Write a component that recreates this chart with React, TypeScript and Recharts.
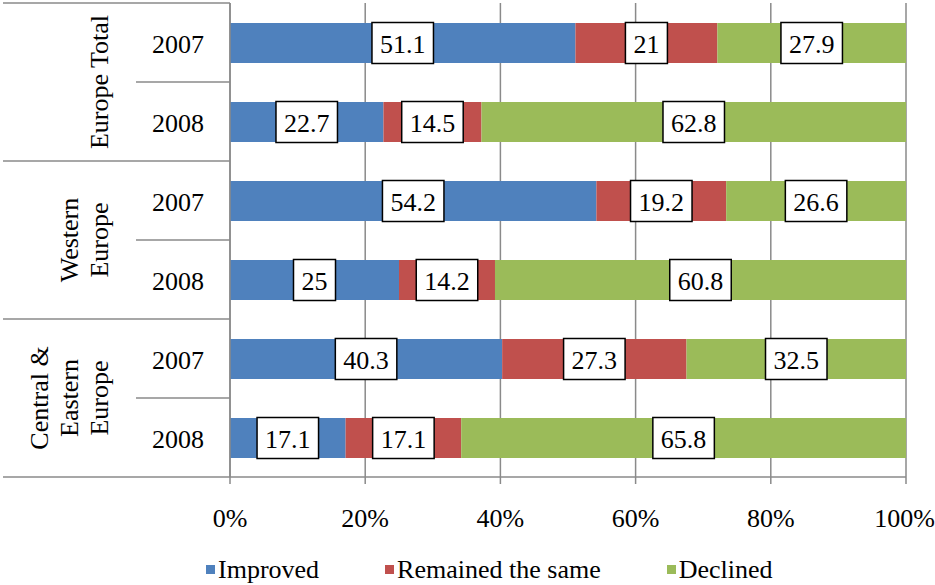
import { BarChart, Bar, XAxis, YAxis, CartesianGrid, LabelList } from "recharts";

const FONT = "'Liberation Serif', Tinos, 'Times New Roman', Times, 'DejaVu Serif', serif";
const GRAY = "#8a8a8a";

const groups = [["Europe Total"], ["Western", "Europe"], ["Central &", "Eastern", "Europe"]];
const years = ["2007", "2008", "2007", "2008", "2007", "2008"];
const improved = [51.1, 22.7, 54.2, 25, 40.3, 17.1];
const remained = [21, 14.5, 19.2, 14.2, 27.3, 17.1];
const declined = [27.9, 62.8, 26.6, 60.8, 32.5, 65.8];
const xTicks = [0, 0.2, 0.4, 0.6, 0.8, 1];

const series = [
  { key: "improved", name: "Improved", color: "#4F81BD" },
  { key: "remained", name: "Remained the same", color: "#C0504D" },
  { key: "declined", name: "Declined", color: "#9BBB59" },
];

const data = years.map((year, i) => ({
  id: `${groups[Math.floor(i / 2)].join(" ")} ${year}`,
  year,
  improved: improved[i],
  remained: remained[i],
  declined: declined[i],
}));

// layout of the plot area
const AXIS_X = 230;
const TOP = 3;
const BOTTOM = 477;
const BAND = (BOTTOM - TOP) / data.length;

const textWidth = (s: string) =>
  s.split("").reduce((w, c) => w + (c === "." ? 6.5 : 13), 0);

// eslint-disable-next-line @typescript-eslint/no-explicit-any
const YearTick = (props: any) => {
  const { y, index } = props;
  const top = y - BAND / 2;
  const bottom = y + BAND / 2;
  const lastInGroup = index % 2 === 1;
  const lines = groups[Math.floor(index / 2)];
  return (
    <g>
      {index === 0 && (
        <line x1={3} x2={AXIS_X} y1={top} y2={top} stroke={GRAY} strokeWidth={1.5} />
      )}
      <line
        x1={lastInGroup ? 3 : 136}
        x2={AXIS_X}
        y1={bottom}
        y2={bottom}
        stroke={GRAY}
        strokeWidth={1.5}
      />
      <text
        x={178}
        y={y + 2}
        textAnchor="middle"
        dominantBaseline="central"
        fontSize={26}
        style={{ fontFamily: FONT }}
        fill="#000"
      >
        {data[index].year}
      </text>
      {!lastInGroup &&
        lines.map((line, j) => {
          const cx = 99 - (lines.length - 1 - j) * 30;
          return (
            <text
              key={line}
              x={cx}
              y={bottom}
              transform={`rotate(-90 ${cx} ${bottom})`}
              textAnchor="middle"
              dominantBaseline="central"
              fontSize={26}
              style={{ fontFamily: FONT }}
              fill="#000"
            >
              {line}
            </text>
          );
        })}
    </g>
  );
};

// eslint-disable-next-line @typescript-eslint/no-explicit-any
const BoxLabel = (props: any) => {
  const { x, y, width, height, value } = props;
  const text = String(value);
  const w = textWidth(text) + 16;
  const cx = x + width / 2;
  const cy = y + height / 2;
  return (
    <g>
      <rect
        x={cx - w / 2}
        y={y - 0.5}
        width={w}
        height={height + 1}
        fill="#fff"
        stroke="#000"
        strokeWidth={1.5}
      />
      <text
        x={cx}
        y={cy + 1}
        textAnchor="middle"
        dominantBaseline="central"
        fontSize={26}
        style={{ fontFamily: FONT }}
        fill="#000"
      >
        {text}
      </text>
    </g>
  );
};

export default function App() {
  return (
    <div style={{ position: "absolute", left: 0, top: 0, width: 935, height: 585, background: "#fff", fontFamily: FONT }}>
      <BarChart
        width={935}
        height={585}
        data={data}
        layout="vertical"
        stackOffset="expand"
        margin={{ top: TOP, right: 29, left: 0, bottom: 0 }}
      >
        <CartesianGrid horizontal={false} stroke={GRAY} strokeWidth={1.5} />
        <XAxis
          type="number"
          domain={[0, 1]}
          ticks={xTicks}
          tickFormatter={(v) => `${Math.round(v * 100)}%`}
          height={585 - BOTTOM}
          axisLine={{ stroke: GRAY, strokeWidth: 1.5 }}
          tickLine={{ stroke: GRAY, strokeWidth: 1.5 }}
          tickSize={7}
          tickMargin={25}
          tick={{ fontSize: 26, fill: "#000", style: { fontFamily: FONT } }}
        />
        <YAxis
          type="category"
          dataKey="id"
          width={AXIS_X}
          interval={0}
          tickLine={false}
          axisLine={{ stroke: GRAY, strokeWidth: 1.5 }}
          tick={<YearTick />}
        />
        {series.map((s) => (
          <Bar
            key={s.key}
            dataKey={s.key}
            name={s.name}
            stackId="a"
            fill={s.color}
            barSize={40}
            isAnimationActive={false}
          >
            <LabelList dataKey={s.key} content={<BoxLabel />} />
          </Bar>
        ))}
      </BarChart>
      <div
        style={{
          position: "absolute",
          left: 206,
          top: 555,
          display: "flex",
          gap: 66,
          fontSize: 26,
          lineHeight: "29px",
          color: "#000",
        }}
      >
        {series.map((s) => (
          <div key={s.key} style={{ display: "flex", alignItems: "center" }}>
            <span style={{ width: 9, height: 9, background: s.color, marginRight: 3 }} />
            <span>{s.name}</span>
          </div>
        ))}
      </div>
    </div>
  );
}
